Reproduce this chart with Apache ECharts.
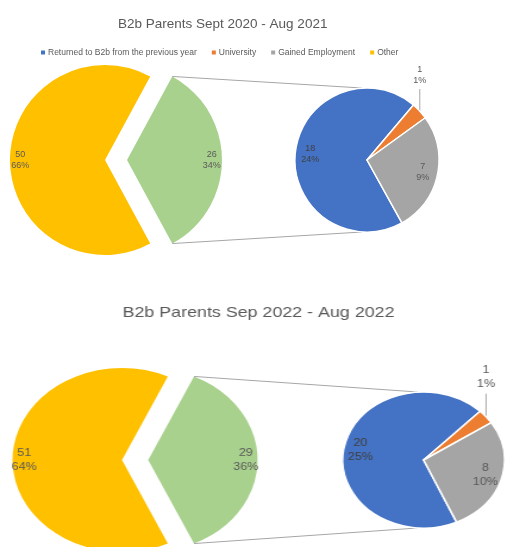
<!DOCTYPE html>
<html>
<head>
<meta charset="utf-8">
<script src="https://cdn.jsdelivr.net/npm/echarts@6/dist/echarts.min.js"></script>
<style>
  html, body { margin: 0; padding: 0; background: #fff; width: 506px; height: 547px; overflow: hidden; }
  #chartTop { position: absolute; left: 0; top: 0; width: 506px; height: 280px; }
  #chartBottom { position: absolute; left: 0; top: 280px; width: 425px; height: 267px;
                 transform: scaleX(1.19); transform-origin: 0 0; }
</style>
</head>
<body>
<div id="chartTop"></div>
<div id="chartBottom"></div>
<script>
// Outcome categories: the first three form the breakout pie, the last stays in the main pie
const categories = ['Returned to B2b from the previous year', 'University', 'Gained Employment', 'Other'];
const categoryColors = ['#4472C4', '#ED7D31', '#A5A5A5', '#FFC000'];
const groupColor = '#A9D18E';

const values2021 = [18, 1, 7, 50];
const values2022 = [20, 1, 8, 51];

const title2021 = 'B2b Parents Sept 2020 - Aug 2021';
const title2022 = 'B2b Parents Sep 2022 - Aug 2022';

const FONT = '"Liberation Sans", Arial, sans-serif';
const TEXT = '#595959';
const LINE = '#A6A6A6';

function buildOption(values, titleText, cfg) {
  const total = values.reduce((a, b) => a + b, 0);
  const groupValue = values[0] + values[1] + values[2];
  const mainStart = groupValue / total * 180;          // keeps the group slice centred on the right
  const pct = v => Math.round(v / total * 100) + '%';
  const fmt = p => p.value + '\n' + pct(p.value);

  const mainData = [
    { name: 'Group', value: groupValue, selected: true, itemStyle: { color: groupColor } },
    { name: categories[3], value: values[3], itemStyle: { color: categoryColors[3] } }
  ];
  const subData = [0, 1, 2].map(i => ({
    name: categories[i], value: values[i], itemStyle: { color: categoryColors[i] }
  }));

  // connector lines from the exploded slice edges to the top/bottom of the breakout pie
  const a = mainStart * Math.PI / 180;
  const gx = cfg.main[0] + cfg.explode + cfg.mainR * Math.cos(a);
  const gyTop = cfg.main[1] - cfg.mainR * Math.sin(a);
  const gyBot = cfg.main[1] + cfg.mainR * Math.sin(a);
  const connectors = [
    { type: 'line', shape: { x1: gx, y1: gyTop, x2: cfg.sub[0] - 5, y2: cfg.sub[1] - cfg.subR }, style: { stroke: LINE, lineWidth: 1 }, z: 0 },
    { type: 'line', shape: { x1: gx, y1: gyBot, x2: cfg.sub[0] - 5, y2: cfg.sub[1] + cfg.subR }, style: { stroke: LINE, lineWidth: 1 }, z: 0 }
  ];

  const labelStyle = { fontFamily: FONT, fontSize: cfg.labelSize, lineHeight: cfg.lineHeight, color: TEXT };

  const option = {
    animation: false,
    title: {
      text: titleText, left: cfg.titleLeft, top: cfg.titleTop,
      textStyle: { fontFamily: FONT, fontSize: cfg.titleSize, fontWeight: 'normal', color: TEXT }
    },
    graphic: connectors,
    series: [
      {
        type: 'pie', silent: true, center: cfg.main, radius: cfg.mainR,
        startAngle: mainStart, clockwise: true,
        selectedMode: 'single', selectedOffset: cfg.explode,
        label: { show: false }, labelLine: { show: false },
        itemStyle: { borderWidth: 0 },
        data: mainData
      },
      {
        type: 'pie', silent: true, center: cfg.sub, radius: cfg.subR,
        startAngle: cfg.subStart, clockwise: true,
        itemStyle: { borderColor: '#fff', borderWidth: 1.5 },
        label: { show: false },
        labelLine: { show: false },
        labelLayout: function (p) {
          if (p.dataIndex !== 1 || !p.labelLinePoints) return {};
          const p0 = p.labelLinePoints[0];
          return {
            x: p0[0], y: p0[1] - cfg.leader - 3, align: 'center', verticalAlign: 'bottom',
            labelLinePoints: [p0, [p0[0], p0[1] - cfg.leader]]
          };
        },
        data: subData.map((d, i) => i === 1 ? Object.assign({}, d, {
          label: Object.assign({ show: true, position: 'outside', overflow: 'none', formatter: fmt }, labelStyle),
          labelLine: { show: true, length: 6, length2: 0, lineStyle: { color: LINE, width: 1 } }
        }) : d)
      },
      // transparent rings that only carry the in-slice value labels
      {
        type: 'pie', silent: true, center: cfg.main, radius: [cfg.mainR * 0.72, cfg.mainR],
        startAngle: mainStart, clockwise: true,
        selectedMode: 'single', selectedOffset: cfg.explode,
        itemStyle: { color: 'transparent', borderWidth: 0 },
        label: Object.assign({ show: true, position: 'inside', formatter: fmt }, labelStyle),
        labelLine: { show: false },
        data: mainData.map(d => Object.assign({}, d, { itemStyle: { color: 'transparent' } }))
      },
      {
        type: 'pie', silent: true, center: cfg.sub, radius: [cfg.subR * 0.5, cfg.subR],
        startAngle: cfg.subStart, clockwise: true,
        itemStyle: { color: 'transparent', borderWidth: 0 },
        label: Object.assign({ show: true, position: 'inside', formatter: fmt }, labelStyle),
        labelLine: { show: false },
        data: subData.map((d, i) => Object.assign({}, d, {
          itemStyle: { color: 'transparent' },
          label: { show: i !== 1, color: i === 0 ? '#404040' : TEXT }
        }))
      }
    ]
  };
  if (cfg.legend) {
    option.legend = {
      data: categories, left: cfg.legendLeft, top: cfg.legendTop,
      icon: 'rect', itemWidth: 4, itemHeight: 4, itemGap: 15,
      itemStyle: { borderWidth: 0 },
      textStyle: { fontFamily: FONT, fontSize: 8.5, color: TEXT, padding: [0, 0, 0, -2] }
    };
  }
  return option;
}

const topChart = echarts.init(document.getElementById('chartTop'), null, { renderer: 'canvas' });
topChart.setOption(buildOption(values2021, title2021, {
  main: [105, 160], mainR: 95, explode: 22,
  sub: [367, 160], subR: 72, subStart: 299,
  titleLeft: 113, titleTop: 12, titleSize: 13.5,
  labelSize: 9, lineHeight: 11, leader: 22,
  legend: true, legendLeft: 36, legendTop: 43
}));

const bottomChart = echarts.init(document.getElementById('chartBottom'), null, { renderer: 'canvas' });
bottomChart.setOption(buildOption(values2022, title2022, {
  main: [102.5, 180], mainR: 92, explode: 22,
  sub: [356, 180], subR: 68, subStart: 294,
  titleLeft: 98, titleTop: 20, titleSize: 15,
  labelSize: 10.5, lineHeight: 14, leader: 23,
  legend: false
}));
</script>
</body>
</html>
